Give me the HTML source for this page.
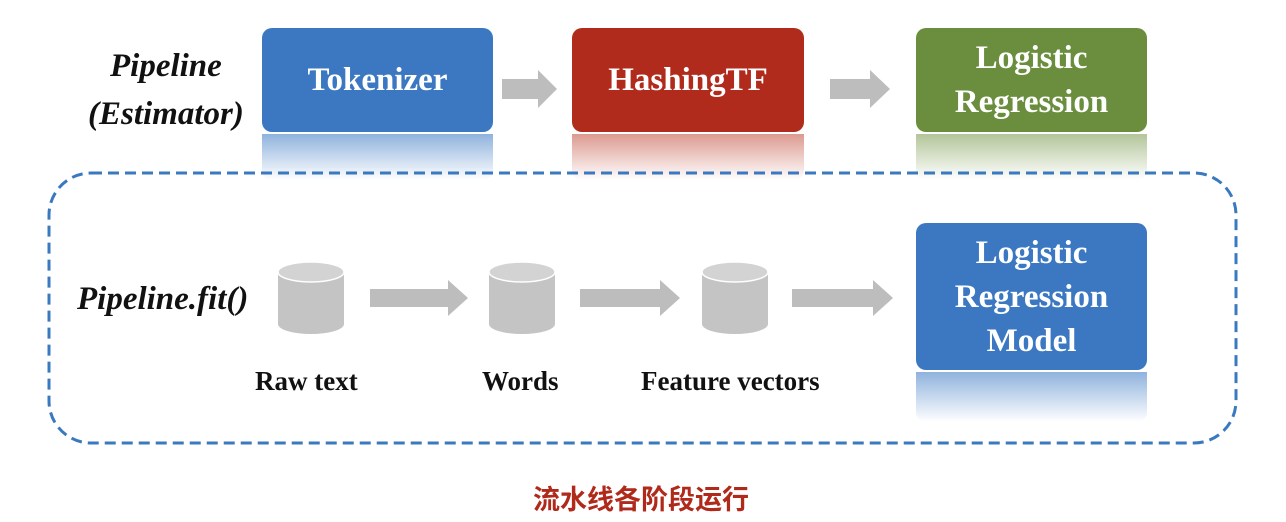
<!DOCTYPE html>
<html><head><meta charset="utf-8"><style>
body{margin:0;width:1286px;height:522px;background:#fff;position:relative;overflow:hidden;font-family:"Liberation Serif",serif;}
.b{position:absolute;border-radius:10px;color:#fff;font-weight:bold;font-size:33px;display:flex;align-items:center;justify-content:center;text-align:center;line-height:44px;}
.r{position:absolute;border-radius:0 0 10px 10px;}
.t{position:absolute;font-weight:bold;font-size:27px;color:#111;white-space:nowrap;}
.i{position:absolute;font-weight:bold;font-style:italic;font-size:33px;color:#111;white-space:nowrap;}
</style></head><body>
<div class="r" style="left:262px;top:134px;width:231px;height:46px;background:linear-gradient(#8fb2dd,#fff)"></div>
<div class="r" style="left:572px;top:134px;width:232px;height:46px;background:linear-gradient(#dc9a90,#fff)"></div>
<div class="r" style="left:916px;top:134px;width:231px;height:46px;background:linear-gradient(#b3c59a,#fff)"></div>
<div class="r" style="left:916px;top:372px;width:231px;height:50px;background:linear-gradient(#8fb2dd,#fff)"></div>
<div class="b" style="left:262px;top:28px;width:231px;height:104px;background:#3b78c1">Tokenizer</div>
<div class="b" style="left:572px;top:28px;width:232px;height:104px;background:#b12b1c">HashingTF</div>
<div class="b" style="left:916px;top:28px;width:231px;height:104px;background:#6b8e3e">Logistic<br>Regression</div>
<div class="b" style="left:916px;top:223px;width:231px;height:147px;background:#3b78c1">Logistic<br>Regression<br>Model</div>
<svg width="1286" height="522" style="position:absolute;left:0;top:0">
<rect x="49" y="173" width="1187" height="270" rx="42" fill="none" stroke="#3a78c0" stroke-width="3" stroke-dasharray="11 6"/>
<g fill="#bdbdbd">
<polygon points="502,79 538,79 538,70 557,89 538,108 538,99 502,99"/>
<polygon points="830,79 870,79 870,70 890,89 870,108 870,99 830,99"/>
<polygon points="370,289 448,289 448,280 468,298 448,316 448,307 370,307"/>
<polygon points="580,289 660,289 660,280 680,298 660,316 660,307 580,307"/>
<polygon points="792,289 873,289 873,280 893,298 873,316 873,307 792,307"/>
</g>
<g>
<path d="M278,272 v52 a33,10 0 0 0 66,0 v-52z" fill="#c4c4c4"/><ellipse cx="311" cy="272" rx="33" ry="10" fill="#d3d3d3" stroke="#fff" stroke-width="1.5"/>
<path d="M489,272 v52 a33,10 0 0 0 66,0 v-52z" fill="#c4c4c4"/><ellipse cx="522" cy="272" rx="33" ry="10" fill="#d3d3d3" stroke="#fff" stroke-width="1.5"/>
<path d="M702,272 v52 a33,10 0 0 0 66,0 v-52z" fill="#c4c4c4"/><ellipse cx="735" cy="272" rx="33" ry="10" fill="#d3d3d3" stroke="#fff" stroke-width="1.5"/>
</g>
</svg>
<div class="i" style="left:110px;top:48px">Pipeline</div>
<div class="i" style="left:88px;top:96px">(Estimator)</div>
<div class="i" style="left:77px;top:281px">Pipeline.fit()</div>
<div class="t" style="left:255px;top:366px">Raw text</div>
<div class="t" style="left:482px;top:366px">Words</div>
<div class="t" style="left:641px;top:366px">Feature vectors</div>
<div style="position:absolute;left:0;width:1282px;top:478px;text-align:center;color:#b02a1c;font-size:27px;font-weight:bold;font-family:'Liberation Sans','Noto Sans CJK SC',sans-serif">流水线各阶段运行</div>
</body></html>
